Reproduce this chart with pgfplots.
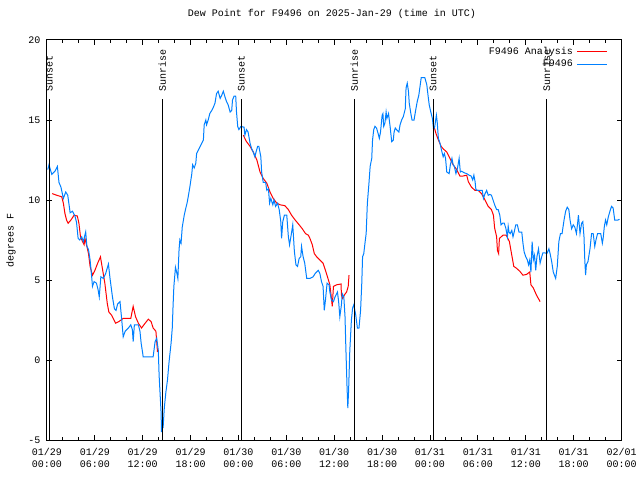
\documentclass[border=0pt]{standalone}
\usepackage{pgfplots}
\pgfplotsset{compat=1.18}
\usepackage{fontspec}
\setmainfont{Liberation Mono}
\definecolor{gblue}{RGB}{0,128,255}
\definecolor{gred}{RGB}{255,0,0}
\pgfplotstableread{
h v
0.65 10.4
1.2 10.3
1.85 10.2
2.05 9.8
2.25 9.15
2.45 8.75
2.65 8.55
3.0 8.75
3.4 9.05
3.8 9.0
4.0 8.55
4.2 7.7
4.45 7.4
4.65 7.2
4.75 7.6
5.0 7.1
5.2 6.65
5.4 5.85
5.7 5.3
6.0 5.6
6.35 6.05
6.7 6.45
6.9 5.85
7.25 4.8
7.55 3.55
7.75 3.0
8.1 2.8
8.4 2.5
8.6 2.3
9.0 2.4
9.55 2.6
10.5 2.6
10.8 3.35
11.1 2.7
11.45 2.3
11.85 2.0
12.3 2.3
12.7 2.55
13.05 2.4
13.3 2.0
13.65 1.8
13.75 1.15
13.85 0.5
13.86 nan
24.6 14.05
25.0 13.65
25.45 13.35
25.85 13.0
26.3 12.5
26.7 11.75
27.1 11.35
27.55 11.05
27.95 10.5
28.35 10.1
28.8 9.8
29.2 9.7
29.8 9.65
30.25 9.4
30.65 9.05
31.1 8.75
31.6 8.45
32.0 8.2
32.4 7.9
32.75 7.8
32.95 7.6
33.25 7.2
33.5 6.65
33.8 6.45
34.2 6.25
34.6 6.05
34.9 5.6
35.15 5.2
35.45 4.7
35.65 3.85
35.75 3.35
35.9 4.6
36.3 4.7
36.85 4.75
36.9 4.05
37.05 3.85
37.25 4.05
37.55 4.25
37.75 4.6
37.85 5.3
37.86 nan
48.5 14.6
48.75 14.15
49.05 13.75
49.4 13.35
49.65 13.2
50.1 13.0
50.5 12.6
50.9 12.2
51.35 11.9
51.75 11.5
52.15 11.5
52.6 11.55
52.8 11.15
53.2 10.8
53.65 10.6
54.05 10.6
54.45 10.4
54.9 10.0
55.3 9.6
55.7 9.4
55.95 9.05
56.1 8.25
56.35 7.7
56.45 6.85
56.6 6.65
56.7 7.6
57.15 7.8
57.55 7.8
57.95 7.4
58.25 6.55
58.5 5.85
58.8 5.75
59.25 5.55
59.65 5.3
60.1 5.35
60.5 5.5
60.65 4.7
60.95 4.5
61.35 4.05
61.8 3.65
}\analysis
\pgfplotstableread{
h v
0.1 11.9
0.25 12.2
0.6 11.6
1.0 11.8
1.3 12.1
1.5 11.1
1.75 10.8
2.05 10.1
2.35 10.5
2.6 10.3
2.9 9.2
3.2 9.3
3.5 9.0
3.7 8.6
3.9 7.6
4.1 7.5
4.35 7.7
4.55 7.4
4.85 8.0
5.0 7.1
5.2 6.9
5.4 6.25
5.6 5.2
5.7 4.6
5.9 4.9
6.2 4.8
6.4 4.4
6.55 3.95
6.75 5.2
7.05 5.1
7.35 5.4
7.7 6.0
7.9 5.1
8.2 3.95
8.45 3.2
8.65 3.1
8.85 3.5
9.15 3.65
9.35 2.6
9.55 1.45
9.8 1.8
10.2 2.0
10.5 2.2
10.7 1.9
10.8 1.15
10.95 2.2
11.45 2.2
11.65 1.8
11.8 1.05
12.0 0.4
12.05 0.2
13.3 0.2
13.55 1.15
13.75 1.35
13.95 0.6
14.05 -0.95
14.3 -3.3
14.35 -4.5
14.5 -3.75
14.55 -4.25
14.7 -3.0
14.9 -2.0
15.1 -1.25
15.3 -0.1
15.55 1.05
15.7 2.0
15.8 3.4
15.9 4.6
16.1 5.8
16.25 5.5
16.4 5.1
16.55 6.9
16.65 7.5
16.8 7.3
16.95 8.3
17.2 9.05
17.4 9.5
17.55 9.8
17.7 10.2
17.9 10.8
18.15 11.65
18.25 12.2
18.45 12.0
18.65 12.3
18.75 12.9
19.05 13.2
19.4 13.55
19.6 13.75
19.7 14.7
19.9 15.0
20.0 14.7
20.2 15.0
20.4 15.4
20.65 15.6
20.85 15.8
21.05 16.05
21.25 16.65
21.45 16.8
21.7 16.35
21.9 16.55
22.1 16.8
22.3 16.45
22.5 16.15
22.7 15.95
22.95 15.5
23.15 15.6
23.25 16.25
23.45 16.5
23.65 16.5
23.75 15.5
23.9 14.6
24.05 14.4
24.3 14.6
24.7 14.55
24.8 14.05
25.0 14.4
25.2 14.25
25.45 13.55
25.65 13.2
25.85 13.0
26.05 12.7
26.2 13.0
26.4 13.35
26.55 13.35
26.8 12.7
26.9 11.75
27.1 11.1
27.4 11.1
27.55 10.6
27.75 10.7
27.9 9.8
28.05 10.1
28.3 9.7
28.45 10.0
28.65 9.6
28.9 9.8
29.1 9.4
29.3 8.65
29.4 7.6
29.55 8.65
29.75 9.05
30.05 9.05
30.25 7.7
30.4 7.2
30.6 7.8
30.8 8.45
31.0 6.8
31.2 5.95
31.4 5.85
31.6 6.35
31.8 6.45
31.9 7.1
32.1 6.45
32.3 6.05
32.55 5.1
32.95 5.1
33.35 5.2
33.6 5.4
34.0 5.6
34.2 5.4
34.4 4.9
34.6 4.6
34.75 3.1
34.9 3.75
35.1 4.8
35.35 4.7
35.45 4.25
35.65 3.75
35.9 3.65
36.1 3.95
36.4 4.25
36.55 3.65
36.7 2.7
36.9 3.45
37.0 4.15
37.2 3.95
37.35 2.7
37.45 0.85
37.6 -1.65
37.7 -3.0
37.8 -1.9
37.95 0.6
38.15 2.5
38.3 3.25
38.45 3.45
38.7 2.8
38.9 2.0
39.1 2.0
39.3 3.1
39.45 4.8
39.55 6.45
39.7 6.65
39.85 7.3
40.0 7.9
40.15 9.8
40.35 11.05
40.5 12.1
40.7 12.6
40.8 13.75
40.95 14.4
41.1 14.6
41.3 14.5
41.5 14.15
41.65 13.85
41.8 14.25
42.0 15.3
42.1 15.4
42.2 14.6
42.35 14.8
42.5 15.5
42.6 15.1
42.8 15.4
43.0 14.6
43.2 13.65
43.4 13.75
43.5 14.25
43.65 14.5
43.8 14.4
44.1 14.25
44.25 14.7
44.45 15.0
44.65 15.2
44.9 15.7
45.0 17.0
45.15 17.3
45.3 16.8
45.4 16.05
45.6 15.4
45.75 15.0
46.0 15.0
46.2 15.6
46.4 16.15
46.6 16.55
46.75 17.1
46.9 17.65
47.35 17.65
47.6 17.2
47.75 16.55
47.9 15.95
48.1 15.5
48.3 15.1
48.45 14.4
48.6 14.6
48.8 15.3
48.9 14.9
49.05 13.85
49.25 13.55
49.45 13.1
49.65 12.7
49.8 12.9
49.95 12.6
50.1 11.75
50.4 11.65
50.55 12.2
50.75 12.6
50.9 12.2
51.05 12.1
51.25 11.65
51.45 12.0
51.65 12.6
51.8 11.75
51.95 11.8
52.3 11.7
52.6 11.65
52.9 11.55
53.15 11.5
53.35 11.25
53.5 11.55
53.65 11.15
53.75 10.65
53.95 10.6
54.55 10.6
54.7 10.1
54.9 10.4
55.1 10.6
55.3 10.3
55.5 10.35
55.7 10.3
55.9 10.0
56.1 9.7
56.35 9.4
56.55 9.4
56.75 9.05
56.9 8.45
57.1 8.55
57.3 8.55
57.5 8.25
57.7 7.7
57.8 8.35
57.9 8.0
58.05 7.9
58.25 8.1
58.4 7.7
58.55 8.0
58.75 8.45
58.95 8.45
59.15 8.0
59.5 8.0
59.65 7.3
59.8 6.75
60.0 6.45
60.2 6.25
60.35 5.95
60.5 6.25
60.65 5.5
60.8 7.4
60.95 6.25
61.1 6.55
61.25 5.6
61.4 6.45
61.6 6.95
61.8 6.05
62.0 6.45
62.15 6.7
62.4 6.7
62.65 6.65
62.9 6.95
63.05 6.65
63.25 6.15
63.45 5.5
63.6 5.3
63.75 5.1
63.95 5.85
64.15 7.4
64.35 7.9
64.55 7.9
64.8 8.75
65.0 9.3
65.2 9.55
65.4 9.4
65.55 8.75
65.75 8.2
65.95 8.45
66.15 8.3
66.35 7.9
66.5 8.55
66.6 9.05
66.8 7.9
67.0 8.55
67.15 8.65
67.3 7.7
67.4 6.25
67.5 5.3
67.6 5.95
67.8 6.15
68.05 6.95
68.25 7.9
68.45 7.9
68.65 7.1
68.8 7.5
69.0 7.9
69.4 7.9
69.6 7.3
69.7 7.6
69.85 8.35
70.0 8.75
70.15 8.45
70.35 8.95
70.55 9.3
70.75 9.6
70.95 9.5
71.15 8.75
71.55 8.75
71.75 8.8
}\station
\begin{document}
\begin{tikzpicture}
\path[use as bounding box] (-47pt,-40pt) rectangle (593pt,440pt);
\begin{axis}[
  at={(0pt,0pt)}, anchor=south west, scale only axis,
  width=574.5pt, height=400pt,
  xmin=0, xmax=72, ymin=-5, ymax=20,
  xtick={0,6,...,72},
  xticklabels={{01/29\\00:00},{01/29\\06:00},{01/29\\12:00},{01/29\\18:00},{01/30\\00:00},{01/30\\06:00},{01/30\\12:00},{01/30\\18:00},{01/31\\00:00},{01/31\\06:00},{01/31\\12:00},{01/31\\18:00},{02/01\\00:00}},
  minor x tick num=2,
  ytick={-5,0,5,10,15,20},
  tick align=inside,
  major tick length=5pt, minor tick length=3pt,
  axis line style={line width=1pt},
  every tick/.style={black, line width=1pt},
  /pgf/number format/assume math mode=true,
  xticklabel style={align=center, yshift=-5pt},
  yticklabel style={xshift=-3pt},
  title={Dew Point for F9496 on 2025-Jan-29 (time in UTC)},
  title style={at={(axis description cs:0.496,1.05)}, anchor=center, inner sep=0pt},
  ylabel={degrees F},
  ylabel style={at={(axis description cs:-0.0627,0.5)}, anchor=center, inner sep=0pt},
  legend style={draw=none, fill=none, at={(axis description cs:0.982,0.992)}, anchor=north east,
    nodes={inner sep=1pt, text height=8pt, text depth=2.5pt}, column sep=3pt, row sep=0pt},
  legend cell align=right,
  legend plot pos=right,
  legend image code/.code={\draw[#1] (0pt,0pt) -- (30pt,0pt);},
  unbounded coords=jump,
]
\addplot[gred, line width=1pt] table[x=h, y=v] {\analysis};
\addlegendentry{F9496 Analysis}
\addplot[gblue, line width=1pt] table[x=h, y=v] {\station};
\addlegendentry{F9496}
\addplot[black, line width=1pt, forget plot] coordinates {(0.29,16.3) (0.29,-5)};
\addplot[black, line width=1pt, forget plot] coordinates {(14.45,16.3) (14.45,-5)};
\addplot[black, line width=1pt, forget plot] coordinates {(24.35,16.3) (24.35,-5)};
\addplot[black, line width=1pt, forget plot] coordinates {(38.5,16.3) (38.5,-5)};
\addplot[black, line width=1pt, forget plot] coordinates {(48.4,16.3) (48.4,-5)};
\addplot[black, line width=1pt, forget plot] coordinates {(62.6,16.3) (62.6,-5)};
\node[rotate=90, anchor=west, inner sep=0pt] at (axis cs:0.29,16.75) {Sunset};
\node[rotate=90, anchor=west, inner sep=0pt] at (axis cs:14.45,16.75) {Sunrise};
\node[rotate=90, anchor=west, inner sep=0pt] at (axis cs:24.35,16.75) {Sunset};
\node[rotate=90, anchor=west, inner sep=0pt] at (axis cs:38.5,16.75) {Sunrise};
\node[rotate=90, anchor=west, inner sep=0pt] at (axis cs:48.4,16.75) {Sunset};
\node[rotate=90, anchor=west, inner sep=0pt] at (axis cs:62.6,16.75) {Sunrise};
\end{axis}
\end{tikzpicture}
\end{document}
